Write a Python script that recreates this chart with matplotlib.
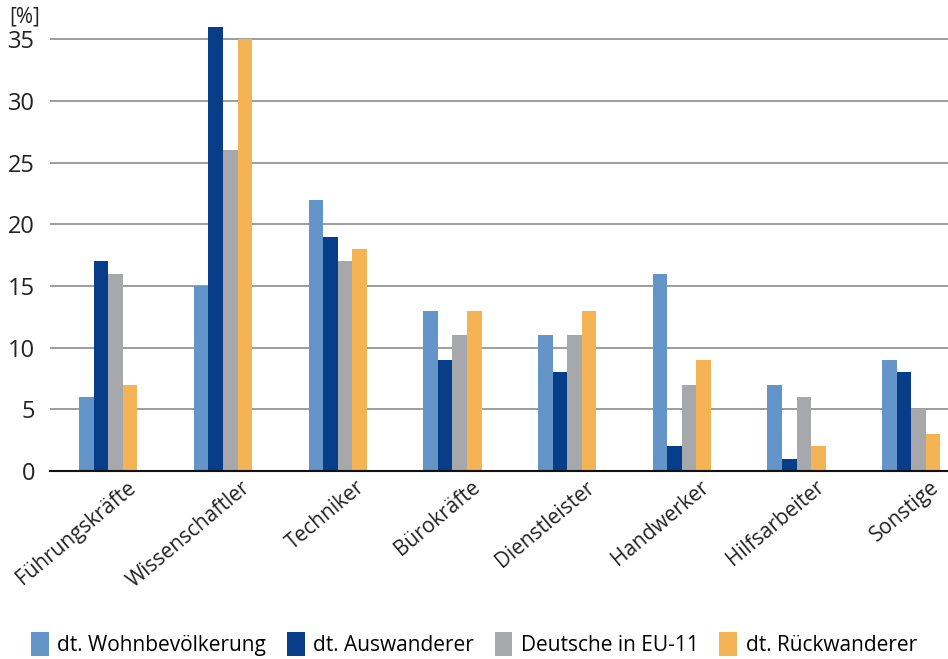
import numpy as np
import matplotlib
matplotlib.use("Agg")
import matplotlib.pyplot as plt
import matplotlib.transforms as mtransforms
from matplotlib.patches import Patch

plt.rcParams['font.family'] = ['Open Sans', 'DejaVu Sans']

categories = ["Führungskräfte", "Wissenschaftler", "Techniker", "Bürokräfte",
              "Dienstleister", "Handwerker", "Hilfsarbeiter", "Sonstige"]
wohnbev = [6, 15, 22, 13, 11, 16, 7, 9]
auswanderer = [17, 36, 19, 9, 8, 2, 1, 8]
eu11 = [16, 26, 17, 11, 11, 7, 6, 5]
rueckwanderer = [7, 35, 18, 13, 13, 9, 2, 3]

series = [
    (wohnbev, "#6495C9", "dt. Wohnbevölkerung"),
    (auswanderer, "#083D8A", "dt. Auswanderer"),
    (eu11, "#A7A8AC", "Deutsche in EU-11"),
    (rueckwanderer, "#F4B455", "dt. Rückwanderer"),
]

fig = plt.figure(figsize=(9.48, 6.59), dpi=100)
ax = fig.add_axes([0.053, 0.285, 0.947, 0.693])

x = np.arange(len(categories))
w = 0.127
for i, (vals, color, label) in enumerate(series):
    ax.bar(x + (i - 1.5) * w, vals, width=w, color=color, label=label, zorder=3)

ax.set_xlim(-0.506, 7.32)
ax.set_ylim(0, 37)
ax.set_yticks(range(0, 36, 5))
ax.yaxis.grid(True, color="#8C8C8C", linewidth=1.2, zorder=0)
for s in ["top", "right", "left"]:
    ax.spines[s].set_visible(False)
ax.spines["bottom"].set_color("#111111")
ax.spines["bottom"].set_linewidth(1.5)
ax.spines["bottom"].set_zorder(4)
ax.tick_params(axis="both", length=0, colors="#222222")
ax.tick_params(axis="y", pad=11, labelsize=17)
ax.set_xticks(x)
ax.set_xticklabels(categories, rotation=40, ha="right", va="top",
                   rotation_mode="anchor", fontsize=15)
ax.tick_params(axis="x", pad=4)
shift = mtransforms.ScaledTranslation(18 / 100, 0, fig.dpi_scale_trans)
for lab in ax.get_xticklabels():
    lab.set_transform(lab.get_transform() + shift)

fig.text(25 / 948, 1 - 17 / 659, "[%]", fontsize=15, ha="center", va="center", color="#222222")

handles = [Patch(facecolor=c, label=l) for _, c, l in series]
fig.legend(handles=handles, loc="center", bbox_to_anchor=(0.5, 1 - 644 / 659), ncol=4,
           frameon=False, fontsize=15, handlelength=0.85, handleheight=1.4,
           handletextpad=0.4, columnspacing=1.0)

fig.savefig("out.png", dpi=100)
